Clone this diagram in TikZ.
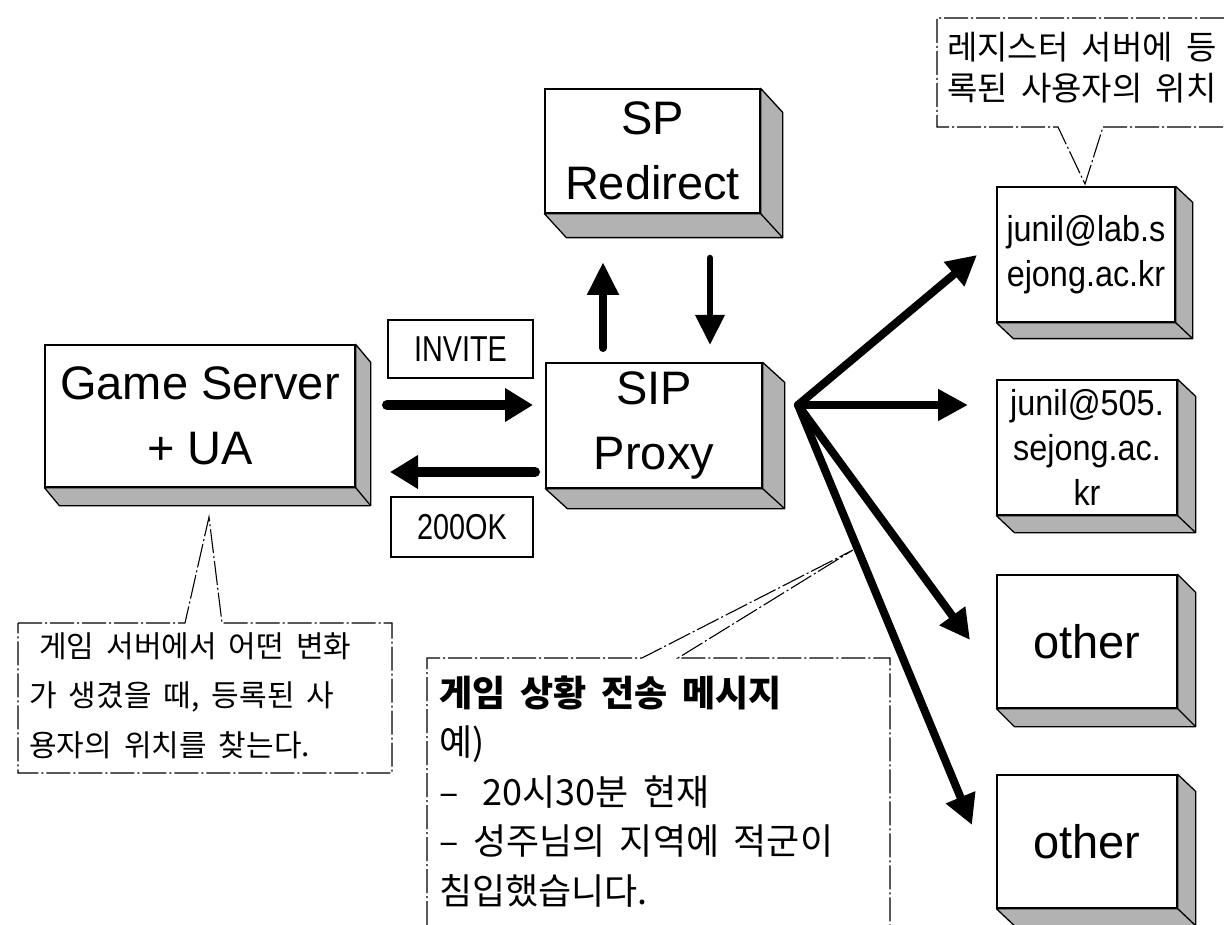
\documentclass[tikz,border=0pt]{standalone}
\usepackage{fontspec}
\setmainfont{Liberation Sans}
\newfontfamily\narrow[FakeStretch=0.8]{Liberation Sans}
\newfontfamily\mail[FakeStretch=0.9]{Liberation Sans}
\newfontfamily\kr[WordSpace=1.8]{Noto Sans CJK KR}
\usetikzlibrary{arrows.meta}

% draws the shaded right side and bottom of a raised block
\newcommand\slab[3]{%
  \draw[face] (#1.north east) -- ++(#2,#3) -- ([shift={(#2,#3)}]#1.south east)
    -- ([shift={(#2,#3)}]#1.south west) -- (#1.south west) -- (#1.south east) -- cycle;
  \draw[line width=1.3pt] (#1.south east) -- ++(#2,#3);}

\begin{document}
\begin{tikzpicture}[x=1pt,y=-1pt,
  block/.style={draw, line width=1.3pt, fill=white, inner sep=0pt, align=center},
  big/.style={font=\fontsize{47}{65}\selectfont},
  face/.style={fill=black!30, draw, line width=1.3pt, line join=round},
  tag/.style={draw, line width=1.5pt, inner sep=0pt, font=\narrow\fontsize{36}{40}\selectfont},
  mailtext/.style={font=\mail\fontsize{36}{45}\selectfont},
  callout/.style={draw, fill=white, line width=1.1pt, dash pattern=on 24pt off 3pt on 2pt off 3pt},
  note/.style={inner sep=0pt, align=left, anchor=base west},
  flow/.style={line width=9pt, line cap=round, -{Triangle[length=30pt,width=30pt]}},
]
\useasboundingbox (0,0) rectangle (1224,925);

% callouts (each note is anchored at the baseline of its last line)
\draw[callout] (1224,18) -- (937,18) -- (937,127) -- (1058,127) -- (1085,184) -- (1103,127) -- (1224,127);
\node[note, font=\kr\fontsize{33}{41}\selectfont] (regnote) at (947,101)
  {레지스터 서버에 등\\록된 사용자의 위치};

\draw[callout] (18,623) -- (185,623) -- (209,517) -- (222,623) -- (392,623) -- (392,773) -- (18,773) -- cycle;
\node[note, font=\kr\fontsize{30}{49.5}\selectfont] (gsnote) at (29,756)
  {\hspace*{10pt}게임 서버에서 어떤 변화\\가 생겼을 때, 등록된 사\\용자의 위치를 찾는다.};

\draw[callout] (427,925) -- (427,658) -- (642,658) -- (853,550) -- (678,658) -- (890,658) -- (890,925);
\node[note, font=\kr\fontsize{36}{49.5}\selectfont] (msgnote) at (439,904)
  {{\bfseries 게임 상황 전송 메시지}\\예)\\–\hspace{24pt}20시30분 현재\\– 성주님의 지역에 적군이\\침입했습니다.};

% raised blocks
\node[block, big, minimum width=310, minimum height=142] (gs) at (200,416) {Game Server\\+ UA};
\slab{gs}{15}{18}
\node[block, big, minimum width=215, minimum height=124] (spr) at (652.5,151) {SP\\Redirect};
\slab{spr}{22}{24}
\node[block, big, minimum width=216, minimum height=125] (sip) at (654,425.5) {SIP\\Proxy};
\slab{sip}{22}{20}
\node[block, mailtext, minimum width=178, minimum height=135] (b1) at (1086,254.5) {junil@lab.s\\ejong.ac.kr};
\slab{b1}{17}{16}
\node[block, mailtext, minimum width=180, minimum height=135] (b2) at (1087,447.5) {junil@505.\\sejong.ac.\\kr};
\slab{b2}{18}{17}
\node[block, big, minimum width=180, minimum height=133] (b3) at (1087,641.5) {other};
\slab{b3}{18}{18}
\node[block, big, minimum width=180, minimum height=133] (b4) at (1087,841.5) {other};
\slab{b4}{18}{17}

% message labels
\node[tag, minimum width=145, minimum height=58] (inv) at (460.5,349) {INVITE};
\node[tag, minimum width=142, minimum height=60] (ok) at (462,527) {200OK};

% message arrows
\coordinate (invA) at (387,405);
\coordinate (invB) at (533,405);
\coordinate (okA) at (535,472);
\coordinate (okB) at (390,472);
\draw[flow, line width=10pt, -{Triangle[length=28pt,width=32pt]}] (invA) -- (invB);
\draw[flow, line width=10pt, -{Triangle[length=28pt,width=32pt]}] (okA) -- (okB);

\coordinate (upA) at (603,348);
\coordinate (upB) at (603,262);
\coordinate (dnA) at (710,258);
\coordinate (dnB) at (710,345);
\draw[flow, line width=8pt, -{Triangle[length=33pt,width=30pt]}] (upA) -- (upB);
\draw[flow, line width=6.5pt, -{Triangle[length=30pt,width=28pt]}] (dnA) -- (dnB);

\coordinate (fan) at (798,405);
\coordinate (t1) at (977,255);
\coordinate (t2) at (968,405);
\coordinate (t3) at (970,640);
\coordinate (t4) at (972,825);
\foreach \t in {t1,t2,t3,t4}
  \draw[flow, line width=8pt] (fan) -- (\t);
\end{tikzpicture}
\end{document}
